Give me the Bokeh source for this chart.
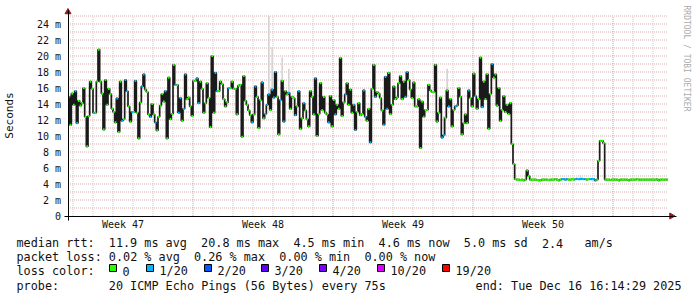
import math
import re
from bokeh.plotting import figure
from bokeh.models import Range1d, FixedTicker
from bokeh.core.properties import value
from bokeh.embed import file_html
from bokeh.resources import INLINE

# ---------------- data ----------------
SPAN_HOURS = 720          # 30 days shown
BIN_HOURS = 2             # one median value per 2 hours
Y_TOP = 25

median_ms = [
    14.9, 11.4, 15.3, 13.9, 15.6, 11.6, 14.4, 13.8, 14.1, 16.0,
    12.4, 8.7, 12.5, 16.8, 15.9, 12.9, 12.9, 16.8, 20.8, 16.8,
    15.3, 10.8, 17.0, 13.9, 15.9, 15.25, 13.4, 13.0, 11.7, 14.7,
    10.5, 16.8, 11.9, 12.1, 17.0, 15.6, 13.7, 11.8, 13.0, 13.0,
    16.9, 12.9, 9.7, 14.2, 16.2, 17.7, 15.8, 15.5, 12.7, 12.4,
    14.0, 12.7, 11.7, 10.7, 12.4, 13.8, 15.25, 14.3, 15.6, 9.7,
    17.3, 12.1, 12.75, 18.9, 16.4, 16.4, 12.9, 14.75, 11.9, 13.4,
    17.7, 14.6, 14.8, 13.7, 12.5, 16.9, 16.9, 17.2, 14.1, 16.8,
    15.9, 12.9, 14.1, 16.6, 14.75, 11.1, 20.0, 12.9, 17.9, 15.6,
    15.6, 16.8, 16.5, 14.6, 13.7, 14.2, 16.0, 16.0, 16.8, 15.9,
    15.9, 12.7, 16.3, 16.4, 9.9, 17.5, 14.4, 13.9, 13.2, 12.6,
    11.7, 12.7, 16.2, 14.9, 11.0, 14.5, 16.7, 12.2, 12.75, 13.9,
    15.2, 13.25, 15.8, 14.8, 18.0, 14.9, 10.2, 14.5, 16.9, 11.8,
    15.6, 15.2, 15.4, 13.4, 14.9, 14.75, 12.6, 13.7, 15.6, 10.9,
    12.2, 14.1, 13.2, 12.1, 11.2, 15.6, 14.9, 12.7, 17.2, 10.0,
    12.75, 16.6, 13.25, 14.9, 12.9, 12.7, 11.7, 15.0, 11.2, 14.5,
    12.7, 13.9, 13.4, 19.75, 12.5, 14.2, 15.2, 16.6, 13.9, 15.8,
    12.9, 13.9, 10.75, 13.0, 14.1, 12.6, 12.75, 15.7, 12.4, 11.9,
    13.4, 9.2, 15.9, 18.9, 14.9, 15.5, 15.3, 14.75, 13.2, 11.4,
    17.4, 13.4, 17.9, 12.75, 13.9, 16.2, 14.6, 14.8, 16.6, 17.5,
    14.6, 16.8, 14.9, 18.0, 17.0, 15.8, 14.75, 16.7, 13.7, 13.7,
    14.6, 8.5, 14.3, 12.4, 13.25, 13.25, 16.4, 15.7, 15.5, 15.5,
    18.9, 11.8, 12.9, 14.8, 9.8, 10.1, 12.25, 15.7, 13.7, 14.6,
    11.2, 13.25, 13.7, 13.8, 16.0, 14.9, 10.2, 11.6, 12.7, 11.6,
    15.7, 14.75, 13.7, 17.8, 15.0, 13.4, 14.6, 19.8, 13.6, 16.8,
    14.6, 17.75, 10.9, 15.25, 19.0, 17.3, 17.7, 13.8, 16.0, 11.9,
    13.25, 15.0, 13.0, 13.9, 12.75, 14.1, 9.0, 6.5, 4.6, 4.55,
    4.55, 4.5, 4.55, 4.45, 4.55, 5.7, 5.0, 4.55, 4.55, 4.55,
    4.55, 4.5, 4.45, 4.45, 4.55, 4.55, 4.55, 4.55, 4.5, 4.55,
    4.55, 4.55, 4.6, 4.55, 4.45, 4.55, 4.6, 4.6, 4.55, 4.6,
    4.55, 4.55, 4.6, 4.55, 4.6, 4.65, 4.6, 4.6, 4.65, 4.6,
    4.6, 4.55, 4.6, 4.6, 4.6, 4.6, 4.45, 4.55, 6.9, 9.4,
    9.4, 9.1, 4.55, 4.55, 4.55, 4.5, 4.55, 4.55, 4.55, 4.55,
    4.45, 4.55, 4.55, 4.55, 4.55, 4.55, 4.45, 4.55, 4.55, 4.55,
    4.55, 4.6, 4.55, 4.55, 4.55, 4.55, 4.55, 4.55, 4.55, 4.55,
    4.55, 4.55, 4.55, 4.6, 4.45, 4.55, 4.55, 4.55, 4.55, 4.55,
]

# bins whose median was drawn in the "1/20 lost" colour
loss_1of20_bins = [
    0, 4, 5, 15, 29, 32, 34, 35, 38, 40, 44, 45, 49, 52, 58, 64, 66, 67, 69, 70,
    77, 78, 88, 89, 96, 110, 112, 116, 118, 119, 120, 122, 123, 124, 127, 129,
    132, 136, 138, 141, 148, 156, 160, 166, 171, 172, 177, 178, 181, 184, 189,
    190, 191, 202, 203, 224, 225, 228, 232, 233, 240, 244, 248, 254,
    296, 297, 298, 299, 304, 305, 306, 307, 308, 309, 310, 313, 314, 315, 316,
]

# visible "smoke" (spread of the 20 pings) in a few bins
smoke_bin = [120, 122, 128, 132, 225, 227, 307]
smoke_lo = [15.2, 15.8, 16.9, 15.4, 10.1, 15.7, 4.6]
smoke_hi = [25.0, 21.1, 19.8, 18.4, 12.5, 18.4, 5.1]

week_bounds_h = [150, 318, 486, 654]
week_label_h = [66, 234, 402, 570]
week_names = ["Week 47", "Week 48", "Week 49", "Week 50"]
day_lines_h = [h for h in range(6, SPAN_HOURS, 24) if h not in week_bounds_h]

y_ticks = [0, 2, 4, 6, 8, 10, 12, 14, 16, 18, 20, 22, 24]
y_tick_labels = ["0", "2 m", "4 m", "6 m", "8 m", "10 m", "12 m", "14 m",
                 "16 m", "18 m", "20 m", "22 m", "24 m"]
y_grid = list(range(1, Y_TOP + 1))

loss_levels = ["0", "1/20", "2/20", "3/20", "4/20", "10/20", "19/20"]
loss_colors = ["#26ff00", "#00b8ff", "#0059ff", "#5e00ff", "#7e00ff", "#dd00ff", "#ff0000"]

row_median = "median rtt:  11.9 ms avg  20.8 ms max  4.5 ms min  4.6 ms now  5.0 ms sd  2.4   am/s"
row_loss = "packet loss: 0.02 % avg  0.26 % max  0.00 % min  0.00 % now"
row_color = "loss color:"
row_probe = "probe:       20 ICMP Echo Pings (56 Bytes) every 75s"
row_end = "end: Tue Dec 16 16:14:29 2025"
credit = "RRDTOOL / TOBI OETIKER"

MONO = "DejaVu Sans Mono"
W, H = 697, 297

# ---------------- geometry of the chart area (pixels) ----------------
PX_LEFT, PX_ZERO = 67.5, 215.5      # pixel centre of t=0 and of value 0
PX_PER_H, PX_PER_MS = 600 / SPAN_HOURS, 200 / Y_TOP

x0 = -PX_LEFT / PX_PER_H
y0 = -(H - PX_ZERO) / PX_PER_MS
p = figure(width=W, height=H,
           x_range=Range1d(x0, x0 + W / PX_PER_H), y_range=Range1d(y0, y0 + H / PX_PER_MS),
           output_backend="svg", toolbar_location=None,
           min_border_left=0, min_border_right=0, min_border_top=0, min_border_bottom=0)
p.extra_x_ranges = {"px": Range1d(0, W)}
p.extra_y_ranges = {"px": Range1d(H, 0)}
p.outline_line_color = None
p.grid.visible = False
p.background_fill_color = "white"
p.border_fill_color = "white"

# axes drawn at fixed positions inside the canvas
p.xaxis.fixed_location = 0
p.yaxis.fixed_location = 0
p.xaxis.bounds = (-4 / PX_PER_H, SPAN_HOURS + 8 / PX_PER_H)
p.yaxis.bounds = (-4 / PX_PER_MS, Y_TOP + 5.5 / PX_PER_MS)
p.xaxis.ticker = FixedTicker(ticks=week_label_h)
p.xaxis.major_label_overrides = {h: n for h, n in zip(week_label_h, week_names)}
p.yaxis.ticker = FixedTicker(ticks=y_ticks)
p.yaxis.major_label_overrides = {t: s for t, s in zip(y_ticks, y_tick_labels)}
for ax in (p.xaxis, p.yaxis):
    ax.major_tick_in = 0
    ax.major_tick_out = 0
    ax.minor_tick_in = 0
    ax.minor_tick_out = 0
    ax.axis_line_color = "black"
    ax.major_label_text_font = MONO
    ax.major_label_text_font_size = "10px"
    ax.major_label_text_color = "#111111"
p.xaxis.major_label_standoff = 3
p.yaxis.major_label_standoff = 7
p.yaxis.axis_label = "Seconds"
p.yaxis.axis_label_text_font = MONO
p.yaxis.axis_label_text_font_size = "11px"
p.yaxis.axis_label_text_font_style = "normal"
p.yaxis.axis_label_text_color = "#111111"
p.yaxis.axis_label_standoff = 18

# grid (limited to the chart area)
p.segment(x0=[0] * len(y_grid), x1=[SPAN_HOURS] * len(y_grid), y0=y_grid, y1=y_grid,
          line_color="#d9b0b0", line_width=1, line_dash="1 1")
p.segment(x0=day_lines_h, x1=day_lines_h, y0=[0] * len(day_lines_h), y1=[Y_TOP] * len(day_lines_h),
          line_color="#cfcfcf", line_width=1, line_dash="1 1")
p.segment(x0=week_bounds_h, x1=week_bounds_h, y0=[0] * len(week_bounds_h),
          y1=[Y_TOP] * len(week_bounds_h), line_color="#eb9090", line_width=1, line_dash="1 1")

# smoke
p.quad(left=[b * BIN_HOURS for b in smoke_bin], right=[(b + 1) * BIN_HOURS for b in smoke_bin],
       bottom=smoke_lo, top=smoke_hi, fill_color="#d4d4d4", line_color=None)

# median (step) and loss-coloured median marks
hours = [i * BIN_HOURS for i in range(len(median_ms))]
p.step(x=hours + [SPAN_HOURS], y=median_ms + [median_ms[-1]], mode="after",
       line_color="#1a1a1a", line_width=1.7)
seg_colors = [loss_colors[1] if i in loss_1of20_bins else loss_colors[0] for i in range(len(median_ms))]
p.segment(x0=hours, y0=median_ms, x1=hours[1:] + [SPAN_HOURS], y1=median_ms,
          line_color=seg_colors, line_width=2.2, line_cap="butt")

# axis arrows
arrow_col = "#9a1414"
p.scatter(x=[0], y=[Y_TOP + 4 / PX_PER_MS], marker="triangle", size=6,
          fill_color=arrow_col, line_color=arrow_col)
p.scatter(x=[SPAN_HOURS + 3.5 / PX_PER_H], y=[0], marker="triangle", size=6, angle=-math.pi / 2,
          fill_color=arrow_col, line_color=arrow_col)

# credit text
p.text(x=[686], y=[5], text=[credit], angle=-math.pi / 2, text_align="left", text_baseline="middle",
       text_font=value(MONO), text_font_size="8px", text_color="#ababab",
       x_range_name="px", y_range_name="px")

# ---------------- legend block ----------------
FS = "11.8px"
CW = 7.1
LX = 16
rows_y = [242.5, 256.7, 270.9, 285.1]

tx, ty, tt = [], [], []
for row, yy in zip([row_median, row_loss, row_color, row_probe], rows_y):
    for m in re.finditer(r"\S+(?: \S+)*", row):
        tx.append(LX + m.start() * CW)
        ty.append(yy)
        tt.append(m.group())
p.text(x=tx, y=ty, text=tt, text_font=value(MONO), text_font_size=FS, text_color="#111111",
       text_baseline="alphabetic", x_range_name="px", y_range_name="px")
p.text(x=[681], y=[rows_y[3]], text=[row_end], text_font=value(MONO), text_font_size=FS,
       text_color="#111111", text_baseline="alphabetic", text_align="right",
       x_range_name="px", y_range_name="px")

sq_x = []
cur = 109.0
for lab in loss_levels:
    sq_x.append(round(cur))
    cur += 29.5 + len(lab) * CW
p.rect(x=[s + 3.5 for s in sq_x], y=[rows_y[2] - 3.4] * len(sq_x), width=7, height=7,
       fill_color=loss_colors, line_color="black", line_width=1,
       x_range_name="px", y_range_name="px")
p.text(x=[s + 13 for s in sq_x], y=[rows_y[2]] * len(sq_x), text=loss_levels,
       text_font=value(MONO), text_font_size=FS, text_color="#111111", text_baseline="alphabetic",
       x_range_name="px", y_range_name="px")

open("out.html", "w").write(file_html(p, INLINE))
